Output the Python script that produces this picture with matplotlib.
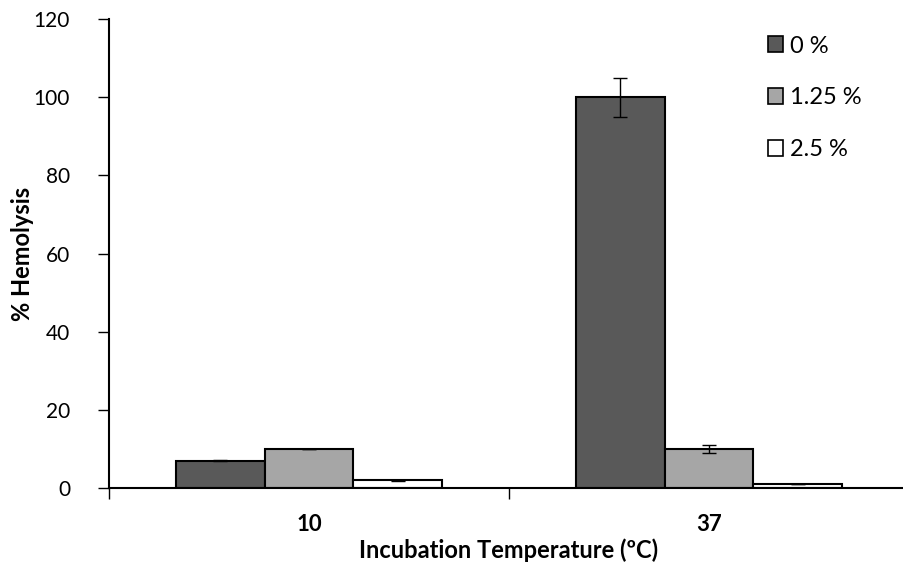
import numpy as np
import matplotlib.pyplot as plt
from matplotlib.patches import Patch

plt.rcParams['font.family'] = ['Lato', 'DejaVu Sans']

temps = ['10', '37']
series = ['0 %', '1.25 %', '2.5 %']
vals_0 = [7, 100]
vals_125 = [10, 10]
vals_25 = [2, 1]
err_0 = [0.2, 5]
err_125 = [0.1, 1]
err_25 = [0.1, 0.1]
colors = ['#595959', '#a6a6a6', '#ffffff']

fig = plt.figure(figsize=(9.04, 5.64), dpi=100)
ax = fig.add_axes([109 / 904, 1 - 488 / 564, 800 / 904, 469 / 564])

w = 2 / 9
x = np.arange(len(temps)) + 0.5
for i, (v, e) in enumerate([(vals_0, err_0), (vals_125, err_125), (vals_25, err_25)]):
    ax.bar(x + (i - 1) * w, v, w, color=colors[i], edgecolor='black', linewidth=1.5,
           yerr=e, error_kw=dict(ecolor='black', elinewidth=1, capsize=5, capthick=1),
           label=series[i], zorder=2)

ax.set_xlim(0, 2)
ax.set_ylim(0, 120)
ax.set_yticks(range(0, 121, 20))
ax.set_xticks([0, 1, 2])
ax.set_xticklabels([])
ax.set_xticks(x, minor=True)
ax.set_xticklabels(temps, minor=True, fontweight='bold', fontsize=16)
ax.tick_params(axis='x', which='minor', length=0, pad=19)
ax.tick_params(axis='x', which='major', length=8, width=1, direction='out')
ax.tick_params(axis='y', length=8, width=1, labelsize=15, pad=20)
for s in ['top', 'right']:
    ax.spines[s].set_visible(False)
for s in ['left', 'bottom']:
    ax.spines[s].set_linewidth(1.5)

ax.set_ylabel('% Hemolysis', fontweight='bold', fontsize=17, labelpad=0)
ax.set_xlabel('Incubation Temperature (ºC)', fontweight='bold', fontsize=17, labelpad=2)

handles = [Patch(facecolor=c, edgecolor='black', linewidth=1.2) for c in colors]
ax.legend(handles, series, loc='upper left', bbox_to_anchor=(0.797, 1.01), frameon=False,
          fontsize=17, handlelength=0.65, handleheight=0.65, handletextpad=0.3,
          labelspacing=1.3)

fig.savefig('out.png', dpi=100)
